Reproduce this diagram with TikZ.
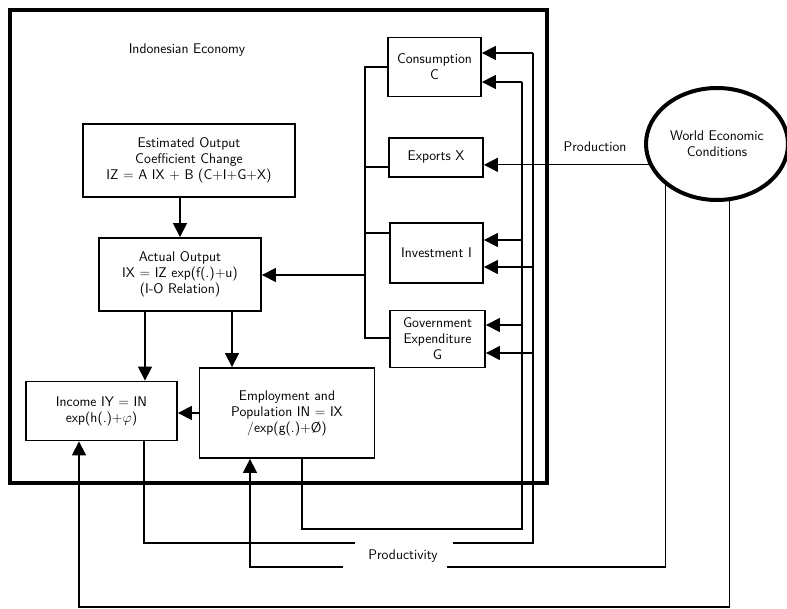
\documentclass[tikz,border=0pt]{standalone}
\usepackage{fontspec}
\usetikzlibrary{arrows.meta,shapes.geometric}
\begin{document}
\begin{tikzpicture}[x=1pt, y=-1pt,
    every node/.style={font=\sffamily\fontsize{14}{16}\selectfont},
    box/.style={draw, line width=1.8pt, align=center, inner sep=2pt},
    line/.style={line width=1.3pt},
    arr/.style={line width=1.3pt, -{Triangle[length=14pt,width=14pt]}}]
    \useasboundingbox (0,0) rectangle (787,609);

    \node[draw, line width=4.5pt, minimum width=537pt, minimum height=473pt] (econ) at (278.5,246.5) {};
    \node (title) at (187,50) {Indonesian Economy};

    \node[box, minimum width=212pt, minimum height=73pt] (est) at (189,160.5)
      {Estimated Output\\Coefficient Change\\IZ = A IX + B (C+I+G+X)};
    \node[box, minimum width=162pt, minimum height=73pt] (act) at (180,274.5)
      {Actual Output\\IX = IZ exp(f(.)+u)\\(I-O Relation)};
    \node[box, minimum width=151pt, minimum height=59pt] (inc) at (101.5,411)
      {Income IY = IN\\exp(h(.)+$\varphi$)};
    \node[box, minimum width=175pt, minimum height=90pt] (emp) at (287,413)
      {Employment and\\Population IN = IX\\/exp(g(.)+\O)};

    \node[box, minimum width=93pt, minimum height=59pt] (cons) at (434.5,67) {Consumption\\C};
    \node[box, minimum width=94pt, minimum height=39pt] (exp) at (436,157.5) {Exports X};
    \node[box, minimum width=93pt, minimum height=60pt] (inv) at (436.5,253) {Investment I};
    \node[box, minimum width=95pt, minimum height=57pt] (gov) at (437.5,339) {Government\\Expenditure\\G};

    \node[draw, ellipse, line width=4pt, minimum width=142pt, minimum height=112pt, align=center]
      (world) at (717,144) {World Economic\\Conditions};
    \node (prod) at (595,147) {Production};
    \node (pty) at (403,556) {Productivity};

    \draw[arr] (act.north |- est.south) -- (act.north);

    \coordinate (c1) at (365,67);
    \coordinate (c2) at (365,167);
    \coordinate (c3) at (365,233);
    \coordinate (c4) at (365,275);
    \coordinate (c5) at (365,338);
    \draw[line] (cons.west |- c1) -- (c1) -- (c5) -- (gov.west |- c5);
    \draw[line] (exp.west |- c2) -- (c2);
    \draw[line] (inv.west |- c3) -- (c3);
    \draw[arr] (c4) -- (c4 -| act.east);

    \draw[arr] ([xshift=-35pt]act.south) -- ([xshift=-35pt]act.south |- inc.north);
    \draw[arr] ([xshift=52pt]act.south) -- ([xshift=52pt]act.south |- emp.north);
    \draw[arr] (emp.west) -- (emp.west -| inc.east);

    \coordinate (a1) at (522,82);
    \coordinate (a2) at (522,240);
    \coordinate (a3) at (522,325);
    \coordinate (a4) at (522,529);
    \coordinate (b1) at (533,53);
    \coordinate (b2) at (533,267);
    \coordinate (b3) at (533,353);
    \coordinate (b4) at (533,543);
    \coordinate (p1) at (355,543);
    \coordinate (p2) at (453,543);
    \coordinate (p3) at (343,567);
    \coordinate (p4) at (447,567);
    \coordinate (bot) at (79,607);

    \draw[line] ([xshift=15pt]emp.south) |- (a4) -- (a1);
    \draw[line] ([xshift=42.5pt]inc.south) |- (p1);
    \draw[line] (p2) -- (b4) -- (b1);
    \foreach \c/\n in {a1/cons, b1/cons, a2/inv, b2/inv, a3/gov, b3/gov}
      \draw[arr] (\c) -- (\c -| \n.east);

    \draw[arr] (world.197) -- (world.197 -| exp.east);
    \draw[line] (world.south west) |- (p4);
    \draw[arr] (p3) -| ([xshift=-37pt]emp.south);
    \draw[arr] (world.-78) |- (bot) -- (bot |- inc.south);
\end{tikzpicture}
\end{document}
